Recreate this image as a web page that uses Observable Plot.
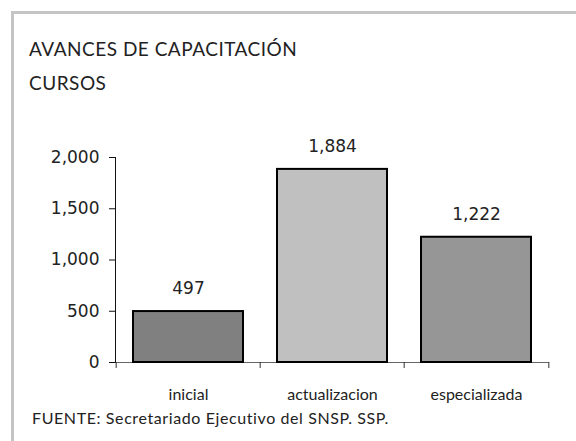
<!DOCTYPE html>
<html><head><meta charset="utf-8">
<script src="https://cdn.jsdelivr.net/npm/d3@7"></script>
<script src="https://cdn.jsdelivr.net/npm/@observablehq/plot@0.6"></script>
<style>
body{margin:0;background:#fff;}
#wrap{position:relative;width:576px;height:441px;overflow:hidden;font-family:Lato,"Open Sans",sans-serif;color:#222;}
#frame{position:absolute;left:11px;top:11px;width:600px;height:500px;border-top:3px solid #c4c4c4;border-left:3px solid #c4c4c4;}
.t{position:absolute;left:29px;font-size:19px;letter-spacing:0.5px;line-height:22px;white-space:nowrap}
#plot{position:absolute;left:0;top:130px}
#foot{position:absolute;left:32px;top:409px;font-size:16px;letter-spacing:0.6px;line-height:18px;white-space:nowrap}
</style>
</head><body>
<div id="wrap">
  <div id="frame"></div>
  <div class="t" id="title" style="top:38px">AVANCES DE CAPACITACIÓN</div>
  <div class="t" id="sub" style="top:72px">CURSOS</div>
  <div id="plot"></div>
  <div id="foot">FUENTE: Secretariado Ejecutivo del SNSP. SSP.</div>
</div>
<script>
const categories = ["inicial", "actualizacion", "especializada"];
const values = [497, 1884, 1222];
const yTicks = [0, 500, 1000, 1500, 2000];

const barColors = ["#808080", "#c0c0c0", "#969696"];
const W = 576, ML = 115, MR = 27;
const step = (W - ML - MR) / categories.length;
const fmt = d3.format(",");

const data = categories.map((c, i) => ({cat: c, value: values[i]}));

const chart = Plot.plot({
  width: W, height: 277,
  marginLeft: ML, marginRight: MR, marginTop: 27, marginBottom: 45,
  style: {fontFamily: "DejaVu Sans", color: "#222", background: "transparent"},
  x: {domain: categories, paddingInner: 0.233, paddingOuter: 0.1165, axis: null, label: null},
  y: {domain: [0, 2000], axis: null, label: null},
  color: {domain: categories, range: barColors},
  marks: [
    Plot.ruleY([0], {stroke: "#666"}),
    Plot.frame({anchor: "left", stroke: "#111"}),
    Plot.axisY({ticks: yTicks, tickFormat: fmt, tickSize: 6, tickPadding: 10, fontSize: 17, stroke: "#111", label: null}),
    Plot.axisX({ticks: categories, tickSize: 6, tickFormat: () => "", dx: -step / 2, stroke: "#333", label: null}),
    Plot.axisX({ticks: [categories[categories.length - 1]], tickSize: 6, tickFormat: () => "", dx: step / 2, stroke: "#333", label: null}),
    Plot.axisX({ticks: categories, tickSize: 0, tickPadding: 26, fontSize: 16, fontFamily: "Lato", label: null}),
    Plot.barY(data, {x: "cat", y: "value", fill: "cat", stroke: "#000", strokeWidth: 2}),
    Plot.text(data, {x: "cat", y: "value", text: d => fmt(d.value), dy: -23, fontSize: 17, fill: "#222"})
  ]
});
document.getElementById("plot").appendChild(chart);
</script>
</body></html>
